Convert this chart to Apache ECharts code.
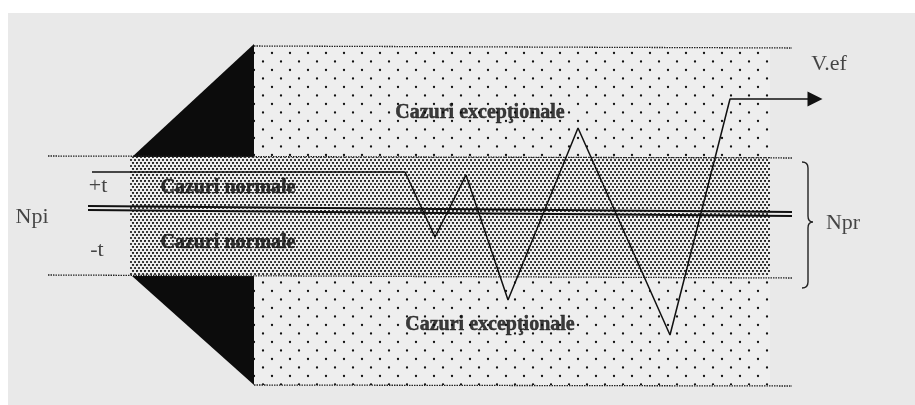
<!DOCTYPE html>
<html>
<head>
<meta charset="utf-8">
<script src="https://cdn.jsdelivr.net/npm/echarts@6/dist/echarts.min.js"></script>
<style>
  html, body { margin: 0; padding: 0; background: #fff; }
  #chart { width: 915px; height: 405px; }
</style>
</head>
<body>
<div id="chart"></div>
<script>
// diagram units = the 915 x 405 drawing plane (y grows downwards)
const upperTriangle = [[132, 157], [254, 44], [254, 157]];
const lowerTriangle = [[132, 276], [254, 276], [254, 385]];
const upperExceptional = [[254, 46], [770, 46], [770, 157], [254, 157]];
const normalBand = [[130, 157], [770, 157], [770, 276], [130, 276]];
const lowerExceptional = [[254, 276], [770, 276], [770, 385], [254, 385]];

const dottedLines = [
  [[254, 46], [792, 48]],
  [[48, 156], [792, 158]],
  [[48, 275], [792, 278]],
  [[254, 385], [792, 386]]
];
const npiLines = [
  [[88, 206], [792, 212]],
  [[88, 210], [792, 216]]
];
const signalX = [92, 405, 435, 466, 508, 578, 670, 730, 815];
const signalY = [172, 172, 237, 175, 300, 128, 335, 99, 99];

const braceX = [802, 808, 813];
const braceY = [162, 222, 288];

const boldLabels = ['Cazuri excepţionale', 'Cazuri normale', 'Cazuri normale', 'Cazuri excepţionale'];
const boldLabelX = [480, 228, 228, 490];
const boldLabelY = [113, 188, 243, 325];
const plainLabels = ['+t', '-t', 'Npi', 'V.ef', 'Npr'];
const plainLabelX = [98, 97, 32, 829, 843];
const plainLabelY = [186, 250, 217, 64, 223];

function dotPattern(w, h, dots, bg, dotColor, r) {
  const c = document.createElement('canvas');
  c.width = w; c.height = h;
  const g = c.getContext('2d');
  g.fillStyle = bg;
  g.fillRect(0, 0, w, h);
  g.fillStyle = dotColor;
  dots.forEach(d => {
    g.beginPath();
    g.arc(d[0], d[1], r, 0, Math.PI * 2);
    g.fill();
  });
  return { image: c, repeat: 'repeat' };
}

const sparse = dotPattern(18, 17, [[2, 2], [11, 10.5]], '#eeeeee', '#111', 1.15);
const dense = dotPattern(8, 6, [[1, 1], [5, 1], [3, 4], [7, 4]], '#eeeeee', '#151515', 1.08);

const regions = [
  { pts: upperExceptional, fill: sparse },
  { pts: lowerExceptional, fill: sparse },
  { pts: normalBand, fill: dense },
  { pts: upperTriangle, fill: '#0c0c0c' },
  { pts: lowerTriangle, fill: '#0c0c0c' }
];

const chart = echarts.init(document.getElementById('chart'));

const series = [];

series.push({
  type: 'custom',
  z: 1,
  silent: true,
  data: regions.map((r, i) => [r.pts[0][0], r.pts[0][1], i]),
  renderItem: function (params, api) {
    const r = regions[api.value(2)];
    return {
      type: 'polygon',
      shape: { points: r.pts.map(p => api.coord(p)) },
      style: { fill: r.fill, stroke: null }
    };
  }
});

dottedLines.forEach(l => {
  series.push({
    type: 'line', z: 3, silent: true, symbol: 'none',
    data: l,
    lineStyle: { color: '#222', width: 1.3, type: [1.5, 1] }
  });
});

npiLines.forEach(l => {
  series.push({
    type: 'line', z: 4, silent: true, symbol: 'none',
    data: l,
    lineStyle: { color: '#111', width: 1.8 }
  });
});

series.push({
  type: 'line', z: 5, silent: true,
  showSymbol: true,
  data: signalX.map((x, i) => {
    const item = { value: [x, signalY[i]], symbol: 'none' };
    if (i === signalX.length - 1) {
      item.symbol = 'triangle';
      item.symbolSize = [15, 15];
      item.symbolRotate = -90;
      item.itemStyle = { color: '#111' };
    }
    return item;
  }),
  lineStyle: { color: '#111', width: 1.5 }
});

series.push({
  type: 'custom',
  z: 5,
  silent: true,
  data: [[braceX[0], braceY[0]]],
  renderItem: function (params, api) {
    const p = (x, y) => api.coord([x, y]);
    const a = p(braceX[0], braceY[0]);
    const b = p(braceX[1], braceY[0] + 6);
    const c = p(braceX[1], braceY[1] - 6);
    const t = p(braceX[2], braceY[1]);
    const d = p(braceX[1], braceY[1] + 6);
    const e = p(braceX[1], braceY[2] - 6);
    const f = p(braceX[0], braceY[2]);
    const path = 'M' + a + 'Q' + [b[0], a[1]] + ' ' + b +
      'L' + c + 'Q' + [c[0], t[1]] + ' ' + t +
      'Q' + [d[0], t[1]] + ' ' + d +
      'L' + e + 'Q' + [e[0], f[1]] + ' ' + f;
    return {
      type: 'path',
      shape: { pathData: path },
      style: { fill: null, stroke: '#222', lineWidth: 1.4 }
    };
  }
});

series.push({
  type: 'scatter', z: 6, silent: true, symbolSize: 0,
  data: boldLabels.map((s, i) => ({ value: [boldLabelX[i], boldLabelY[i]], name: s })),
  label: {
    show: true, position: 'inside', formatter: '{b}',
    fontFamily: 'Liberation Serif', fontWeight: 'bold', fontSize: 20, color: '#0d0d0d',
    textBorderColor: '#0d0d0d', textBorderWidth: 0.5
  }
});

series.push({
  type: 'scatter', z: 6, silent: true, symbolSize: 0,
  data: plainLabels.map((s, i) => ({ value: [plainLabelX[i], plainLabelY[i]], name: s })),
  label: {
    show: true, position: 'inside', formatter: '{b}',
    fontFamily: 'Liberation Serif', fontSize: 22, color: '#1a1a1a'
  }
});

chart.setOption({
  animation: false,
  backgroundColor: '#e9e9e9',
  graphic: [
    { type: 'rect', shape: { x: 0, y: 0, width: 915, height: 13 }, style: { fill: '#fff' }, z: 100 },
    { type: 'rect', shape: { x: 0, y: 0, width: 8, height: 405 }, style: { fill: '#fff' }, z: 100 }
  ],
  grid: { left: 0, right: 0, top: 0, bottom: 0 },
  xAxis: { type: 'value', min: 0, max: 915, show: false },
  yAxis: { type: 'value', min: 0, max: 405, inverse: true, show: false },
  series: series
});
</script>
</body>
</html>
